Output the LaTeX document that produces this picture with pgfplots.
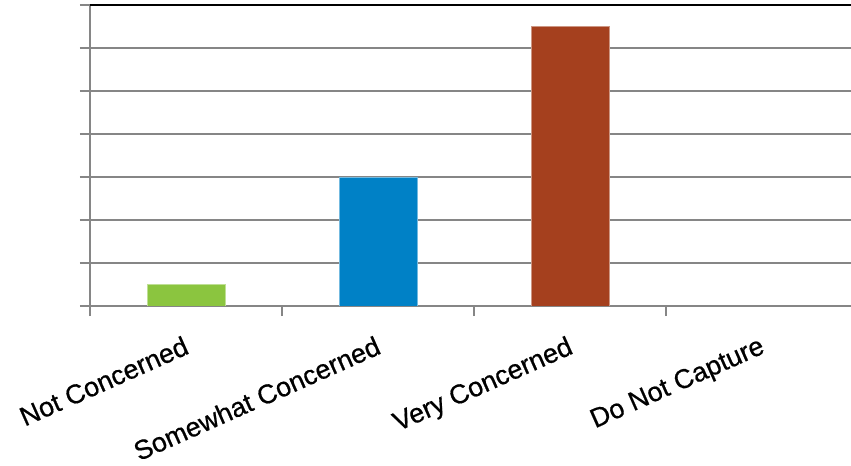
\documentclass[border=0pt]{standalone}
\usepackage{pgfplots}
\pgfplotsset{compat=1.18}
\usepackage{fontspec}
\setmainfont{Liberation Sans}
\newfontfamily\labelfont[FakeBold=0.6]{Liberation Sans}
\definecolor{gridgray}{HTML}{868686}
\definecolor{barGreen}{HTML}{8BC53F}
\definecolor{barBlue}{HTML}{0081C6}
\definecolor{barRust}{HTML}{A5401E}
\begin{document}
\begin{tikzpicture}
% the visible frame: the plot area runs past the right edge
\path[use as bounding box] (-90bp,-160bp) rectangle (761bp,306bp);
\clip (-90bp,-160bp) rectangle (761bp,306bp);
\begin{axis}[
  overlay,
  at={(0,0)}, anchor=south west,
  scale only axis,
  width=768bp, height=301bp,
  xmin=-0.5, xmax=3.5, ymin=0, ymax=70,
  axis x line*=bottom, axis y line*=left,
  axis line style={-},
  x axis line style={gridgray, line width=1.9bp},
  y axis line style={gridgray, line width=2.6bp},
  ytick={0,10,...,70}, yticklabels={},
  xtick={-0.5,0.5,1.5,2.5,3.5}, xticklabels={},
  tick align=outside,
  major tick length=10bp,
  tick style={gridgray, line width=2.4bp},
  ymajorgrids,
  grid style={gridgray, line width=1.9bp},
  extra x ticks={0,1,2,3},
  extra x tick labels={Not Concerned, Somewhat Concerned, Very Concerned, Do Not Capture},
  extra x tick style={major tick length=0pt, grid=none},
  xticklabel style={font=\labelfont\fontsize{27}{31}\selectfont, rotate=24,
    anchor=north east, inner sep=0pt, xshift=-15bp, yshift=-25bp},
]
\addplot[ybar, bar shift=0pt, bar width=78bp, fill=barGreen,
  draw=barGreen!55!white, line width=0.6bp] coordinates {(0,5)};
\addplot[ybar, bar shift=0pt, bar width=78bp, fill=barBlue,
  draw=barBlue!55!white, line width=0.6bp] coordinates {(1,30)};
\addplot[ybar, bar shift=0pt, bar width=78bp, fill=barRust,
  draw=barRust!55!white, line width=0.6bp] coordinates {(2,65)};
\addplot[ybar, bar shift=0pt, bar width=78bp, draw=none, fill=none]
  coordinates {(3,0)};
\draw[black, line width=2bp] (rel axis cs:0,1) -- (rel axis cs:1,1);
\end{axis}
\end{tikzpicture}
\end{document}
